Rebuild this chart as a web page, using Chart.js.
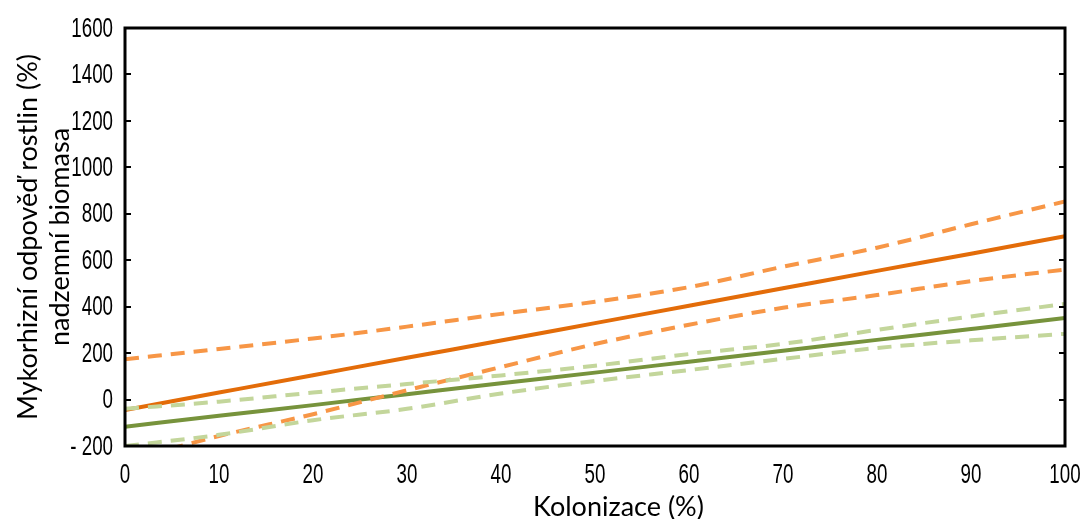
<!DOCTYPE html>
<html>
<head>
<meta charset="utf-8">
<script src="https://cdn.jsdelivr.net/npm/chart.js@4"></script>
<style>
  html, body { margin: 0; padding: 0; background: #fff; }
  #wrap { width: 1085px; height: 519px; position: relative; }
</style>
</head>
<body>
<div id="wrap"><canvas id="c" width="1085" height="519"></canvas></div>
<script>
// colonization (%) -> plant response (%)
const kolonizace = [0, 10, 20, 30, 40, 50, 60, 70, 80, 90, 100];

const orangeFit   = [-45, 30, 105, 180, 254, 329, 404, 479, 554, 628, 703];
const orangeUpper = [174, 218, 263, 314, 369, 421, 484, 572, 654, 755, 853];
const orangeLower = [-265, -157, -63, 40, 140, 239, 322, 395, 450, 510, 560];

const greenFit   = [-117, -70, -24, 23, 70, 116, 163, 210, 257, 304, 351];
const greenUpper = [-40, -9, 30, 67, 104, 146, 196, 240, 300, 358, 412];
const greenLower = [-200, -152, -89, -40, 26, 80, 127, 175, 222, 255, 283];

const yTicks = [-200, 0, 200, 400, 600, 800, 1000, 1200, 1400, 1600];
const xTitle = 'Kolonizace (%)';

const titleFont = { family: "Lato, 'Open Sans', sans-serif", size: 27 };

const pts = arr => arr.map((v, i) => ({ x: kolonizace[i], y: v }));

function line(data, color, width, dash) {
  return {
    data: pts(data), borderColor: color, borderWidth: width,
    borderDash: dash || [], pointRadius: 0, fill: false,
    cubicInterpolationMode: 'monotone', clip: 0
  };
}

// narrow, tall digits like the original: draw the scale's tick labels squeezed
function narrowText(ctx, text, x, y, align) {
  const sx = 0.67;
  ctx.save();
  ctx.font = "28px 'Liberation Sans', Arial, sans-serif";
  ctx.fillStyle = '#000';
  ctx.textBaseline = 'middle';
  ctx.textAlign = align;
  ctx.translate(x, y);
  ctx.scale(sx, 1);
  ctx.fillText(text, 0, 0);
  ctx.restore();
}

// black box round the plot with inward ticks on both sides, plus labels
const frame = {
  id: 'frame',
  afterDatasetsDraw(ch) {
    const { ctx, chartArea: a, scales: { x, y } } = ch;
    ctx.save();
    ctx.strokeStyle = '#000';
    ctx.lineWidth = 3;
    ctx.strokeRect(a.left, a.top, a.right - a.left, a.bottom - a.top);
    ctx.lineWidth = 2;
    ctx.beginPath();
    yTicks.forEach(v => {
      const py = Math.round(y.getPixelForValue(v));
      ctx.moveTo(a.left, py); ctx.lineTo(a.left + 6, py);
      ctx.moveTo(a.right, py); ctx.lineTo(a.right - 6, py);
    });
    ctx.stroke();
    ctx.restore();

    y.ticks.forEach(t => {
      const s = t.value < 0 ? '- ' + Math.abs(t.value) : String(t.value);
      narrowText(ctx, s, a.left - 12, y.getPixelForValue(t.value) + 1, 'right');
    });
    x.ticks.forEach(t => {
      narrowText(ctx, String(t.value), x.getPixelForValue(t.value), a.bottom + 29, 'center');
    });

    ctx.save();
    ctx.font = `${titleFont.size}px ${titleFont.family}`;
    ctx.fillStyle = '#000';
    ctx.textAlign = 'center';
    ctx.textBaseline = 'alphabetic';
    ctx.fillText(xTitle, x.getPixelForValue(52.5), 516);
    ctx.restore();
  }
};

new Chart(document.getElementById('c'), {
  type: 'line',
  data: {
    datasets: [
      line(greenUpper, '#c3d69b', 4, [14, 9]),
      line(greenLower, '#c3d69b', 4, [14, 9]),
      line(orangeUpper, '#f79646', 4, [14, 9]),
      line(orangeLower, '#f79646', 4, [14, 9]),
      line(greenFit, '#77933c', 4),
      line(orangeFit, '#e36c09', 4)
    ]
  },
  options: {
    responsive: false, animation: false,
    layout: { padding: { top: 28, right: 20, left: 0, bottom: 0 } },
    plugins: { legend: { display: false }, tooltip: { enabled: false } },
    scales: {
      x: {
        type: 'linear', min: 0, max: 100,
        grid: { display: false }, border: { display: false },
        ticks: { stepSize: 10, display: false },
        afterFit(s) { s.height = 73; }
      },
      y: {
        min: -200, max: 1600,
        grid: { display: false }, border: { display: false },
        afterBuildTicks(s) { s.ticks = yTicks.map(v => ({ value: v })); },
        ticks: { display: false },
        title: {
          display: true,
          text: ['Mykorhizní odpověď rostlin (%)', 'nadzemní biomasa'],
          color: '#000', font: titleFont, padding: { top: 12, bottom: 0 }
        },
        afterFit(s) { s.width = 125; }
      }
    }
  },
  plugins: [frame]
});
</script>
</body>
</html>
